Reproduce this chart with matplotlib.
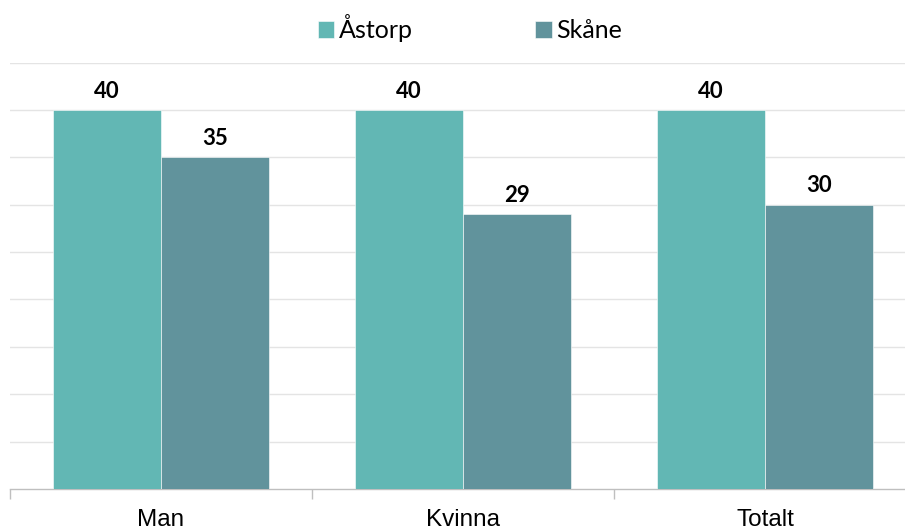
import matplotlib.pyplot as plt
import numpy as np

# ---------- data ----------
categories = ['Man', 'Kvinna', 'Totalt']
series_names = ['Åstorp', 'Skåne']
astorp = [40, 40, 40]
skane = [35, 29, 30]

COLORS = ['#62B7B4', '#61939C']

plt.rcParams['font.family'] = ['Lato', 'DejaVu Sans']

fig = plt.figure(figsize=(9.05, 5.32), dpi=100)
ax = fig.add_axes([10 / 905, 1 - 489 / 532, 906 / 905, (489 - 62.6) / 532])

x = np.arange(len(categories))
w = 0.358
bars = []
for i, (vals, name) in enumerate(zip([astorp, skane], series_names)):
    b = ax.bar(x + (i - 0.5) * w, vals, width=w, color=COLORS[i], label=name,
               edgecolor='white', linewidth=0.4, zorder=3)
    bars.append(b)
    for rect, v in zip(b, vals):
        ax.annotate(f'{v}', (rect.get_x() + rect.get_width() / 2, v),
                    xytext=(0, 6), textcoords='offset points',
                    ha='center', va='bottom', fontsize=16, fontweight='bold',
                    color='black')

ax.set_xlim(-0.5, 2.5)
ax.set_ylim(0, 45)
ax.set_yticks(np.arange(5, 46, 5))
ax.tick_params(axis='y', left=False, labelleft=False)
ax.grid(True, axis='y', color='#e4e4e4', linewidth=1, zorder=0)
ax.set_axisbelow(True)

for s in ['top', 'right', 'left']:
    ax.spines[s].set_visible(False)
ax.spines['bottom'].set_color('#bfbfbf')
ax.spines['bottom'].set_linewidth(1)

# category labels, tick marks at boundaries
ax.set_xticks(x)
ax.set_xticklabels(categories, fontsize=17.5, family=['Liberation Sans', 'DejaVu Sans'])
ax.tick_params(axis='x', length=0, pad=14.5)
ax.set_xticks(np.arange(-0.5, 3, 1), minor=True)
ax.tick_params(axis='x', which='minor', length=7, color='#bfbfbf', width=1)

fig.legend(handles=bars, labels=series_names, loc='center', bbox_to_anchor=(470 / 905, 1 - 28 / 532),
           ncol=2, frameon=False, fontsize=18, handlelength=0.65, handleheight=0.65,
           handletextpad=0.2, columnspacing=4.9)

fig.savefig('out.png', dpi=100, facecolor='white')
